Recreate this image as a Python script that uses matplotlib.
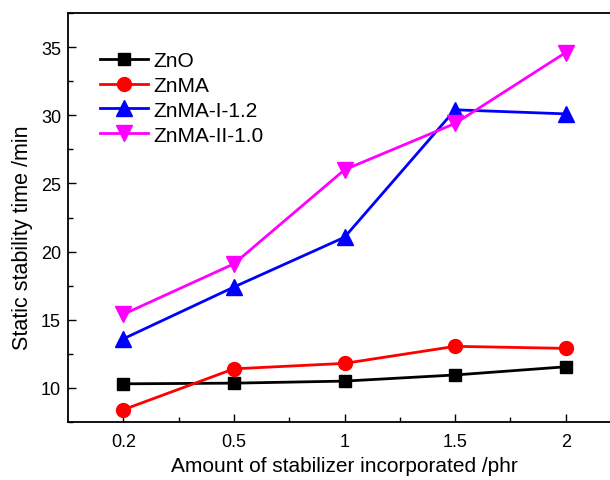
import matplotlib
matplotlib.use("Agg")
import matplotlib.pyplot as plt
from matplotlib.ticker import MultipleLocator, FixedLocator

plt.rcParams['font.family'] = ['Liberation Sans', 'DejaVu Sans']

categories = ["0.2", "0.5", "1", "1.5", "2"]
zno = [10.3, 10.35, 10.5, 10.95, 11.55]
znma = [8.4, 11.4, 11.8, 13.05, 12.9]
znma_i = [13.6, 17.4, 21.05, 30.4, 30.1]
znma_ii = [15.4, 19.1, 26.0, 29.4, 34.6]

fig = plt.figure(figsize=(6.10, 4.81), dpi=100)
ax = fig.add_axes([68/610, 1 - 423/481, (621 - 68)/610, (423 - 14)/481])

x = list(range(len(categories)))
ax.plot(x, zno, color='black', marker='s', ms=9, lw=2, label='ZnO')
ax.plot(x, znma, color='red', marker='o', ms=10, lw=2, label='ZnMA')
ax.plot(x, znma_i, color='blue', marker='^', ms=11, lw=2, label='ZnMA-I-1.2')
ax.plot(x, znma_ii, color='magenta', marker='v', ms=11, lw=2, label='ZnMA-II-1.0')

ax.set_xlim(-0.5, 4.5)
ax.set_ylim(7.5, 37.5)
ax.set_xticks(x)
ax.set_xticklabels(categories)
ax.xaxis.set_minor_locator(FixedLocator([0.5, 1.5, 2.5, 3.5]))
ax.yaxis.set_major_locator(MultipleLocator(5))
ax.yaxis.set_minor_locator(MultipleLocator(2.5))
ax.tick_params(which='both', direction='in', labelsize=13, width=1)
ax.tick_params(which='major', length=6)
ax.tick_params(which='minor', length=3.5)
ax.tick_params(axis='x', pad=8)
ax.tick_params(axis='y', pad=5)
for s in ax.spines.values():
    s.set_linewidth(1.3)

ax.set_xlabel('Amount of stabilizer incorporated /phr', fontsize=15, labelpad=4)
ax.set_ylabel('Static stability time /min', fontsize=15.5)
ax.yaxis.set_label_coords(-0.064, 1 - (238 - 14) / 409)

ax.legend(loc='upper left', bbox_to_anchor=(32/553, 1 - 38/409), frameon=False,
          fontsize=15, handlelength=2.3, handletextpad=0.25, labelspacing=0.28,
          borderaxespad=0, borderpad=0)

fig.savefig('out.png', dpi=100)
